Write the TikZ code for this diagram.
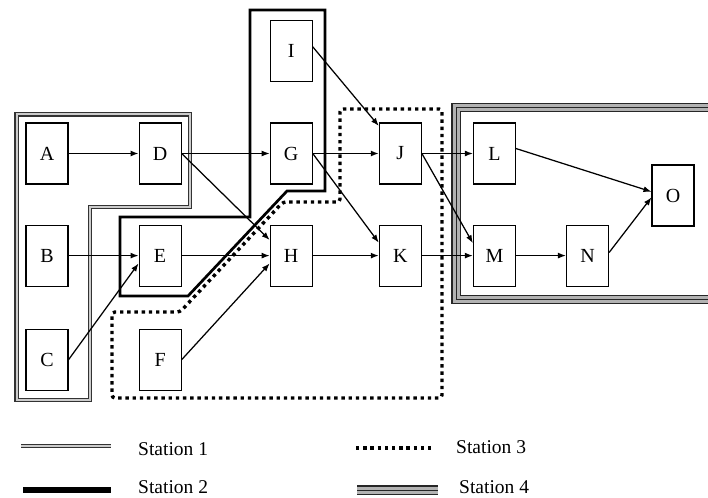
\documentclass[tikz,border=0pt]{standalone}
\usepackage{fontspec}
\setmainfont{Liberation Serif}
\usetikzlibrary{arrows.meta, positioning}

\begin{document}
\begin{tikzpicture}[
    x=1pt, y=-1pt,
    % Define styles for the nodes
    task_node/.style={rectangle, draw=black, fill=white, line width=1.1pt, minimum width=42pt, minimum height=61pt, inner sep=0pt, font=\fontsize{20}{20}\selectfont},
    legend_node/.style={anchor=base west, inner sep=0pt, font=\fontsize{19.5}{20}\selectfont},
    % Styles for arrows
    arrow/.style={-{Latex[length=8pt, width=6pt]}, line width=1.25pt},
    % Styles for the station outlines
    station_one/.style={draw=black!80, line width=1.1pt, double=gray!40, double distance=2pt},
    station_two/.style={draw=black, line width=2.7pt},
    station_three/.style={draw=black, line width=3.4pt, dash pattern=on 3.4pt off 3.8pt},
    station_four/.style={draw=black!85, line width=1.1pt, double=gray!60, double distance=7pt},
    station_four_mid/.style={draw=black!85, line width=0.9pt}
]
    \useasboundingbox (0,0) rectangle (708,497);

    % =========================================================================
    % STATION OUTLINES
    % =========================================================================
    \draw [station_one] (16.5,114.5) -- (190,114.5) -- (190,207) -- (90,207) -- (90,400) -- (16.5,400) -- cycle;
    \draw [station_two] (250,10) -- (325,10) -- (325,191) -- (287,191) -- (188,296) -- (120,296) -- (120,217) -- (250,217) -- cycle;
    \draw [station_three, rounded corners=3pt] (340,109) -- (442,109) -- (442,398) -- (112,398) -- (112,312) -- (180,312) -- (283,202) -- (340,202) -- cycle;
    \foreach \st in {station_four, station_four_mid}
        \draw [\st] (720,107.5) -- (456,107.5) -- (456,299.5) -- (720,299.5);

    % =========================================================================
    % TASKS
    % =========================================================================
    \node (A) [task_node] at (47,153.5) {A};
    \node (D) [task_node, right=70pt of A] {D};
    \node (G) [task_node, right=88pt of D] {G};
    \node (J) [task_node, right=66pt of G] {J};
    \node (L) [task_node, right=51pt of J] {L};
    \node (I) [task_node, above=40pt of G] {I};

    \node (B) [task_node, below=40pt of A] {B};
    \node (C) [task_node, below=42pt of B] {C};
    \node (E) [task_node, below=40pt of D] {E};
    \node (F) [task_node, below=42pt of E] {F};
    \node (H) [task_node, below=40pt of G] {H};
    \node (K) [task_node, below=40pt of J] {K};
    \node (M) [task_node, below=40pt of L] {M};
    \node (N) [task_node, right=50pt of M] {N};
    \node (O) [task_node] at (673,195.5) {O};

    % =========================================================================
    % PRECEDENCE ARROWS
    % =========================================================================
    \draw [arrow] (A) -- (D);
    \draw [arrow] (B) -- (E);
    \draw [arrow] (C.east) -- (E.200);
    \draw [arrow] (D) -- (G);
    \draw [arrow] (D.east) -- (H.144);
    \draw [arrow] (E) -- (H);
    \draw [arrow] (F.east) -- (H.200);
    \draw [arrow] (I.12) -- (J.128);
    \draw [arrow] (G) -- (J);
    \draw [arrow] (G.east) -- (K.149);
    \draw [arrow] (H) -- (K);
    \draw [arrow] (J) -- (L);
    \draw [arrow] (J.east) -- (M.150);
    \draw [arrow] (K) -- (M);
    \draw [arrow] (L.13) -- (O.170);
    \draw [arrow] (M) -- (N);
    \draw [arrow] (N.8) -- (O.185);

    % =========================================================================
    % LEGEND
    % =========================================================================
    \draw [station_one] (21,446) -- (111,446);
    \node (leg_one) [legend_node] at (138,455) {Station 1};
    \draw [station_two, line width=6.5pt] (23,490) -- (111,490);
    \node (leg_two) [legend_node] at (138,493) {Station 2};
    \draw [station_three] (356,448) -- (432,448);
    \node (leg_three) [legend_node] at (456,453) {Station 3};
    \foreach \st in {station_four, station_four_mid}
        \draw [\st] (357,490) -- (438,490);
    \node (leg_four) [legend_node] at (459,493) {Station 4};

\end{tikzpicture}
\end{document}
